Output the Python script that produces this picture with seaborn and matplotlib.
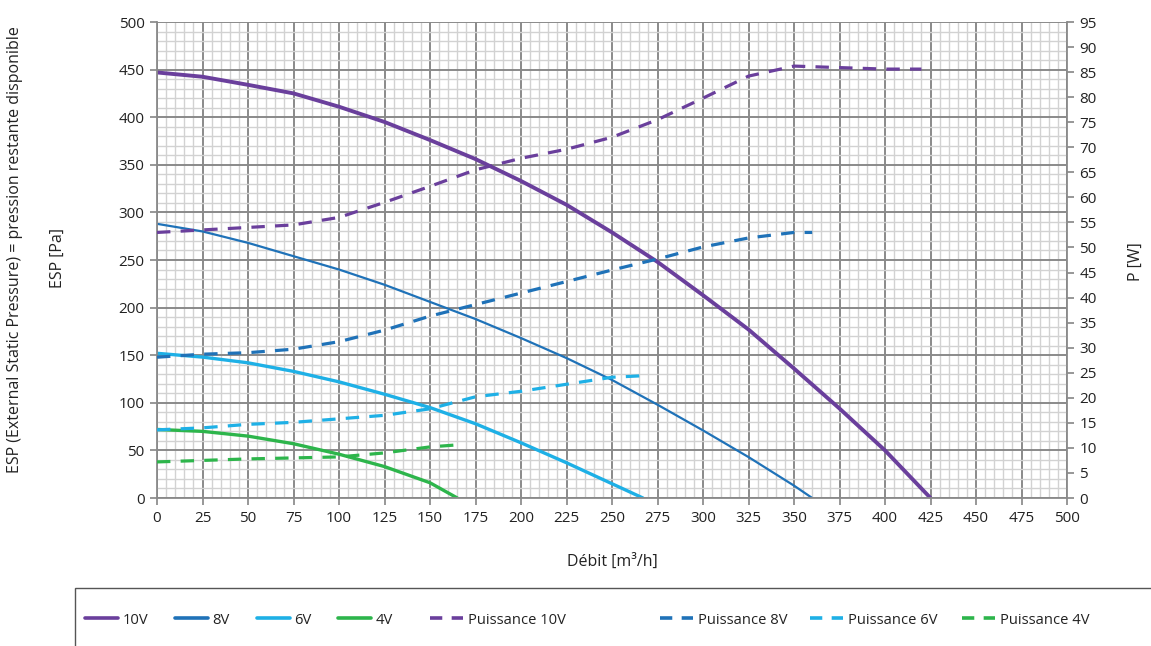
import matplotlib
matplotlib.use("Agg")
import matplotlib.pyplot as plt
import seaborn as sns
from matplotlib.ticker import MultipleLocator
from matplotlib.lines import Line2D
from matplotlib.patches import Rectangle

# ---------------- data ----------------
flow_10v = [0, 25, 50, 75, 100, 125, 150, 175, 200, 225, 250, 275, 300, 325, 350, 375, 400, 425]
esp_10v = [447, 442.5, 434, 425, 411, 395, 376, 356, 333, 308, 279, 248, 213, 177, 136, 94, 50, 0]

flow_8v = [0, 25, 50, 75, 100, 125, 150, 175, 200, 225, 250, 275, 300, 325, 350, 360]
esp_8v = [288, 280, 268, 254, 240, 224, 206, 188, 168, 147, 124, 98, 71, 43, 13, 0]

flow_6v = [0, 25, 50, 75, 100, 125, 150, 175, 200, 225, 250, 267]
esp_6v = [152, 148, 142, 133, 122, 109, 95, 78, 58, 37, 15, 0]

flow_4v = [0, 25, 50, 75, 100, 125, 150, 165]
esp_4v = [72, 70, 65, 57, 46, 33, 16, 0]

pflow_10v = [0, 25, 50, 75, 100, 125, 150, 175, 200, 225, 250, 275, 300, 325, 350, 375, 400, 420]
power_10v = [53, 53.5, 54, 54.5, 56, 59, 62.2, 65.5, 67.8, 69.6, 72, 75.5, 79.8, 84.2, 86.2, 85.9, 85.6, 85.6]

pflow_8v = [0, 25, 50, 75, 100, 125, 150, 175, 200, 225, 250, 275, 300, 325, 350, 360]
power_8v = [28.1, 28.7, 29, 29.7, 31.2, 33.5, 36.3, 38.6, 40.9, 43.2, 45.5, 47.7, 50.1, 51.9, 53, 53]

pflow_6v = [0, 25, 50, 75, 100, 125, 150, 175, 200, 225, 250, 267]
power_6v = [13.6, 14.0, 14.7, 15.1, 15.8, 16.5, 17.8, 20.2, 21.3, 22.7, 24.1, 24.4]

pflow_4v = [0, 25, 50, 75, 100, 125, 150, 165]
power_4v = [7.2, 7.5, 7.8, 8.0, 8.2, 9.0, 10.2, 10.6]

labels_esp = ["10V", "8V", "6V", "4V"]
labels_pow = ["Puissance 10V", "Puissance 8V", "Puissance 6V", "Puissance 4V"]

x_label = "Débit [m³/h]"
y_label_1 = "ESP (External Static Pressure) = pression restante disponible"
y_label_2 = "ESP [Pa]"
y2_label = "P [W]"

# ---------------- style ----------------
sns.set_theme(style="white")
plt.rcParams['font.family'] = ['Open Sans', 'DejaVu Sans']

c_purple = "#6a3f9c"
c_dblue = "#1f72b8"
c_lblue = "#1eb0e6"
c_green = "#2db54b"
colors = [c_purple, c_dblue, c_lblue, c_green]
lws = [2.8, 1.6, 2.4, 2.4]
txt_col = "#222222"

fig = plt.figure(figsize=(11.51, 6.46), dpi=100)
ax = fig.add_axes([157/1151, 1-498/646, (1067-157)/1151, (498-22)/646])
ax2 = ax.twinx()

grid_major = "#8a8a8a"
grid_minor = "#d2d2d2"

ax.set_xlim(0, 500)
ax.set_ylim(0, 500)
ax2.set_ylim(0, 95)
ax.xaxis.set_major_locator(MultipleLocator(25))
ax.xaxis.set_minor_locator(MultipleLocator(5))
ax.yaxis.set_major_locator(MultipleLocator(50))
ax.yaxis.set_minor_locator(MultipleLocator(10))
ax2.yaxis.set_major_locator(MultipleLocator(5))

ax.grid(which="minor", color=grid_minor, lw=1.0, zorder=0)
ax.grid(which="major", color=grid_major, lw=1.4, zorder=0)
ax.set_axisbelow(True)

esp_sets = [(flow_10v, esp_10v), (flow_8v, esp_8v), (flow_6v, esp_6v), (flow_4v, esp_4v)]
pow_sets = [(pflow_10v, power_10v), (pflow_8v, power_8v), (pflow_6v, power_6v), (pflow_4v, power_4v)]

dash_plot = (0, (4.2, 3.2))
dash_leg = (0, (3.4, 2.6))

for (fx, fy), col, lw in zip(esp_sets, colors, lws):
    sns.lineplot(x=fx, y=fy, ax=ax, color=col, lw=lw, estimator=None, sort=False)

for (fx, fy), col in zip(pow_sets, colors):
    sns.lineplot(x=fx, y=fy, ax=ax2, color=col, lw=2.3, estimator=None, sort=False,
                 linestyle=dash_plot)

for a in (ax, ax2):
    for s in a.spines.values():
        s.set_color("#8a8a8a")
        s.set_linewidth(1.3)
    a.spines["top"].set_visible(False)

ax.spines["right"].set_visible(False)
ax2.spines["left"].set_visible(False)
ax2.spines["bottom"].set_visible(False)

ax.tick_params(axis="both", which="major", direction="out", length=5, color="#8a8a8a",
               labelsize=11, labelcolor=txt_col, left=True, bottom=True, pad=4)
ax.tick_params(which="minor", length=0)
ax2.tick_params(axis="y", which="major", direction="out", length=5, color="#8a8a8a",
                labelsize=11, labelcolor=txt_col, right=True, pad=4)
ax2.grid(False)

ax.set_xlabel(x_label, fontsize=11.5, color=txt_col, labelpad=20)
ax.set_ylabel("")
ax2.set_ylabel("")
fig.text(15/1151, 1-250/646, y_label_1, rotation=90, ha="center", va="center", fontsize=11.5, color=txt_col)
fig.text(58/1151, 1-258/646, y_label_2, rotation=90, ha="center", va="center", fontsize=11.5, color=txt_col)
fig.text(1136/1151, 1-262/646, y2_label, rotation=90, ha="center", va="center", fontsize=11.5, color=txt_col)

# legend frame (open at right/bottom like the reference crop)
fig.patches.append(Rectangle((75/1151, -0.05), 1.2, 1-588/646 + 0.05, transform=fig.transFigure,
                             fill=False, edgecolor="#555555", lw=1.0))

# legend entries, one per column, at the reference's column positions
entry_x = [85, 175, 257, 338, 430, 660, 810, 962]
handles = [Line2D([], [], color=c, lw=2.6) for c in colors] + \
          [Line2D([], [], color=c, lw=2.6, linestyle=dash_leg) for c in colors]
lbls = labels_esp + labels_pow
for h, lab, xp in zip(handles, lbls, entry_x):
    lg = fig.legend([h], [lab], loc="center left", bbox_to_anchor=(xp/1151, 1-620/646),
                    frameon=False, fontsize=10.6, handlelength=2.25, handletextpad=0.3,
                    borderpad=0.0, borderaxespad=0.0)
    for t in lg.get_texts():
        t.set_color(txt_col)

fig.savefig("out.png", dpi=100)
